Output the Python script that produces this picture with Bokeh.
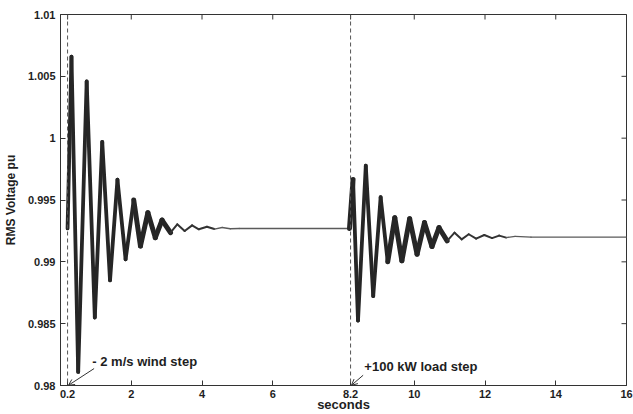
import math
from bokeh.plotting import figure
from bokeh.models import (FixedTicker, Span, Label, Arrow, OpenHead,
                          Range1d, ColumnDataSource)
from bokeh.embed import file_html
from bokeh.resources import INLINE

# ---------------- data ----------------
# response to the -2 m/s wind step (successive extremes), seconds / pu
t_wind = [0.20, 0.31, 0.50, 0.74, 0.97, 1.18, 1.40, 1.61, 1.84, 2.07, 2.26, 2.47,
          2.68, 2.87, 3.11, 3.30, 3.51, 3.72, 3.91, 4.14, 4.35, 4.57, 4.80, 5.05]
v_wind = [0.9927, 1.0066, 0.9811, 1.0046, 0.9855, 0.9997, 0.9885, 0.99665, 0.9902,
          0.9950, 0.99128, 0.99397, 0.99196, 0.99338, 0.99236, 0.99303, 0.99249,
          0.99295, 0.99263, 0.99284, 0.99265, 0.99278, 0.99268, 0.9927]

# response to the +100 kW load step (successive extremes)
t_load = [8.17, 8.27, 8.41, 8.63, 8.84, 9.05, 9.25, 9.45, 9.65, 9.87, 10.08, 10.29,
          10.50, 10.70, 10.93, 11.14, 11.34, 11.54, 11.75, 11.98, 12.20, 12.40,
          12.60, 12.85, 13.30]
v_load = [0.9927, 0.99665, 0.98525, 0.99777, 0.98722, 0.99523, 0.9900, 0.99357,
          0.99008, 0.99349, 0.99062, 0.99317, 0.99124, 0.99276, 0.99169, 0.99236,
          0.99182, 0.99223, 0.99188, 0.99217, 0.99192, 0.99212, 0.99196, 0.99206,
          0.9920]

t_end = 16.0
v_final = 0.9920

event_times = [0.2, 8.2]
event_texts = ["- 2 m/s wind step", "+100 kW load step"]

x_ticks = [0.2, 2, 4, 6, 8.2, 10, 12, 14, 16]
x_tick_labels = ["0.2", "2", "4", "6", "8.2", "10", "12", "14", "16"]
y_ticks = [0.98, 0.985, 0.99, 0.995, 1.0, 1.005, 1.01]
y_tick_labels = ["0.98", "0.985", "0.99", "0.995", "1", "1.005", "1.01"]

# ---------------- build the series ----------------
t_all = t_wind + t_load + [t_end]
v_all = v_wind + v_load + [v_final]

x0, y0, x1, y1, widths, colors = [], [], [], [], [], []
for i in range(len(t_all) - 1):
    x0.append(t_all[i]); y0.append(v_all[i])
    x1.append(t_all[i + 1]); y1.append(v_all[i + 1])
    d = abs(v_all[i + 1] - v_all[i])
    if d > 0.004:
        w, c = 3.8, "#262626"
    elif d > 0.0008:
        w, c = 5.0, "#262626"
    elif d > 0.00015:
        w, c = 2.0, "#333333"
    else:
        w, c = 1.4, "#5a5a5a"
    widths.append(w)
    colors.append(c)

src = ColumnDataSource(dict(x0=x0, y0=y0, x1=x1, y1=y1, w=widths, c=colors))

FONT = "Liberation Sans"
AX = "#333333"
TXT = "#1e1e1e"

p = figure(width=633, height=414, output_backend="svg", toolbar_location=None,
           x_range=Range1d(0, 16), y_range=Range1d(0.98, 1.01),
           min_border_left=58, min_border_right=7, min_border_top=14,
           min_border_bottom=0)
p.grid.visible = False
p.outline_line_color = AX
p.outline_line_width = 1
p.background_fill_color = "white"
p.border_fill_color = "white"

p.segment(x0="x0", y0="y0", x1="x1", y1="y1", line_width="w", line_color="c",
          source=src, line_cap="round", line_join="round")

for t in event_times:
    p.add_layout(Span(location=t, dimension="height", line_dash="4 3",
                      line_color="#555555", line_width=1))

# inward ticks on the top and right edges of the box
p.scatter(x=x_ticks, y=[y_ticks[-1]] * len(x_ticks), marker="dash", size=10,
          angle=math.pi / 2, line_color=AX, line_width=1)
p.scatter(x=[x_ticks[-1]] * len(y_ticks), y=y_ticks, marker="dash", size=10,
          line_color=AX, line_width=1)

# annotations with arrows
ann = [
    (event_texts[0], 0.90, 0.98193, 0.95, 0.98137, 0.225, 0.98002),
    (event_texts[1], 8.59, 0.98153, 8.555, 0.98083, 8.225, 0.98002),
]
for txt, lx, ly, xs, ys, xe, ye in ann:
    p.add_layout(Label(x=lx, y=ly, text=txt, text_font=FONT, text_font_style="bold",
                       text_font_size="13px", text_baseline="middle",
                       text_color=TXT))
    p.add_layout(Arrow(end=OpenHead(size=6, line_width=1, line_color=AX),
                       x_start=xs, y_start=ys, x_end=xe, y_end=ye,
                       line_width=1, line_color=AX))

def style_axis(ax):
    ax.major_tick_in = 5
    ax.major_tick_out = 0
    ax.minor_tick_line_color = None
    ax.axis_line_color = AX
    ax.major_tick_line_color = AX
    ax.major_label_text_font = FONT
    ax.major_label_text_font_style = "bold"
    ax.major_label_text_font_size = "11px"
    ax.major_label_text_color = TXT
    ax.axis_label_text_font = FONT
    ax.axis_label_text_font_style = "bold"
    ax.axis_label_text_color = TXT

xa = p.xaxis[0]
style_axis(xa)
xa.ticker = FixedTicker(ticks=x_ticks)
xa.major_label_overrides = dict(zip(x_ticks, x_tick_labels))
xa.major_label_standoff = 4
xa.axis_label = "seconds"
xa.axis_label_text_font_size = "13px"
xa.axis_label_standoff = -4

ya = p.yaxis[0]
style_axis(ya)
ya.ticker = FixedTicker(ticks=y_ticks)
ya.major_label_overrides = dict(zip(y_ticks, y_tick_labels))
ya.major_label_standoff = 5
ya.axis_label = "RMS Voltage pu"
ya.axis_label_text_font_size = "12px"
ya.axis_label_standoff = 7

open("out.html", "w").write(file_html(p, INLINE))
